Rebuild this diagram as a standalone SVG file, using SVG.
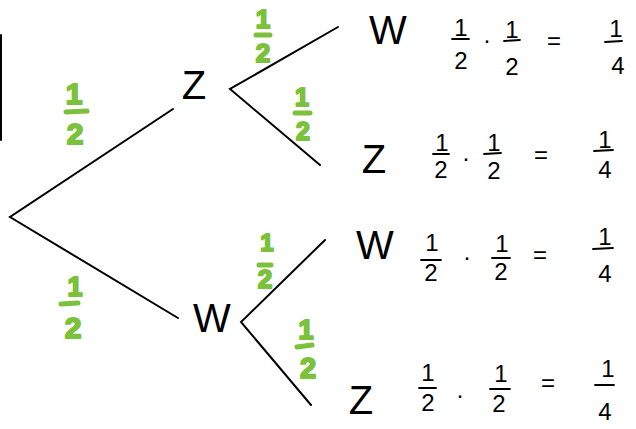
<svg xmlns="http://www.w3.org/2000/svg" width="636" height="429" viewBox="0 0 636 429">
<style>
.ln{stroke:#000;stroke-width:2;fill:none;stroke-linecap:round}
.bar{stroke:#000;stroke-width:1.8;stroke-linecap:round}
.gbar{stroke:#7bc13b;stroke-width:5;stroke-linecap:round}
.g{font-family:"Liberation Sans",Arial,sans-serif;font-weight:bold;fill:#7bc13b;stroke:#7bc13b;stroke-width:2;stroke-linejoin:round;text-anchor:middle}
.n{font-family:"Liberation Sans",Arial,sans-serif;fill:#000;text-anchor:middle;font-size:40px}
.d{font-family:"Liberation Sans",Arial,sans-serif;fill:#000;text-anchor:middle;font-size:24px}
</style>
<rect width="636" height="429" fill="#fff"/>
<g id="connectors">
<line class="ln" x1="1" y1="35" x2="1" y2="140"/>
<polyline class="ln" points="173,109 10,217 178,318"/>
<polyline class="ln" points="338,27 230,89 320,165"/>
<polyline class="ln" points="325,240 241,322 311,405"/>
</g>
<g id="probabilities">
<g id="p1"><text class="g" x="74" y="104" font-size="30">1</text><line class="gbar" x1="66" y1="112" x2="87" y2="111"/><text class="g" x="75" y="144" font-size="30">2</text></g>
<g id="p2"><text class="g" x="263" y="28" font-size="26">1</text><line class="gbar" x1="256" y1="35" x2="270" y2="35"/><text class="g" x="263" y="62" font-size="26">2</text></g>
<g id="p3"><text class="g" x="302" y="106" font-size="25">1</text><line class="gbar" x1="295" y1="113" x2="310" y2="113"/><text class="g" x="303" y="140" font-size="25">2</text></g>
<g id="p4"><text class="g" x="75" y="296" font-size="27">1</text><line class="gbar" x1="61" y1="304" x2="78" y2="303"/><text class="g" x="73" y="338" font-size="30">2</text></g>
<g id="p5"><text class="g" x="267" y="251" font-size="24">1</text><line class="gbar" x1="259" y1="265" x2="271" y2="265"/><text class="g" x="265" y="288" font-size="26">2</text></g>
<g id="p6"><text class="g" x="306" y="339" font-size="27">1</text><line class="gbar" x1="297" y1="347" x2="312" y2="345"/><text class="g" x="308" y="378" font-size="29">2</text></g>
</g>
<g id="node-Z"><text class="n" x="194" y="99">Z</text></g>
<g id="node-W"><text class="n" x="212" y="332">W</text></g>
<g id="row1">
<text class="n" x="388" y="44">W</text>
<text class="d" x="461" y="36">1</text><line class="bar" x1="452" y1="39" x2="469" y2="39"/><text class="d" x="461" y="69">2</text>
<text class="d" x="487" y="48">·</text>
<text class="d" x="512" y="38">1</text><line class="bar" x1="504" y1="41" x2="520" y2="40"/><text class="d" x="512" y="75">2</text>
<text class="d" x="554" y="49">=</text>
<text class="d" x="616" y="37">1</text><line class="bar" x1="605" y1="42" x2="622" y2="41"/><text class="d" x="618" y="74">4</text>
</g>
<g id="row2">
<text class="n" x="374" y="173">Z</text>
<text class="d" x="442" y="151">1</text><line class="bar" x1="433" y1="154" x2="449" y2="154"/><text class="d" x="441" y="178">2</text>
<text class="d" x="466" y="166">·</text>
<text class="d" x="494" y="151">1</text><line class="bar" x1="484" y1="154" x2="501" y2="153"/><text class="d" x="494" y="179">2</text>
<text class="d" x="541" y="163">=</text>
<text class="d" x="605" y="148">1</text><line class="bar" x1="594" y1="151" x2="613" y2="150"/><text class="d" x="605" y="178">4</text>
</g>
<g id="row3">
<text class="n" x="375" y="259">W</text>
<text class="d" x="432" y="251">1</text><line class="bar" x1="421" y1="260" x2="441" y2="260"/><text class="d" x="431" y="281">2</text>
<text class="d" x="467" y="265">·</text>
<text class="d" x="502" y="252">1</text><line class="bar" x1="492" y1="258" x2="510" y2="258"/><text class="d" x="501" y="280">2</text>
<text class="d" x="540" y="263">=</text>
<text class="d" x="605" y="245">1</text><line class="bar" x1="593" y1="249" x2="613" y2="248"/><text class="d" x="605" y="282">4</text>
</g>
<g id="row4">
<text class="n" x="361" y="414">Z</text>
<text class="d" x="428" y="381">1</text><line class="bar" x1="419" y1="388" x2="436" y2="388"/><text class="d" x="428" y="411">2</text>
<text class="d" x="460" y="403">·</text>
<text class="d" x="501" y="382">1</text><line class="bar" x1="490" y1="389" x2="510" y2="389"/><text class="d" x="499" y="412">2</text>
<text class="d" x="548" y="391">=</text>
<text class="d" x="608" y="377">1</text><line class="bar" x1="595" y1="385" x2="614" y2="385"/><text class="d" x="605" y="420">4</text>
</g>
</svg>
